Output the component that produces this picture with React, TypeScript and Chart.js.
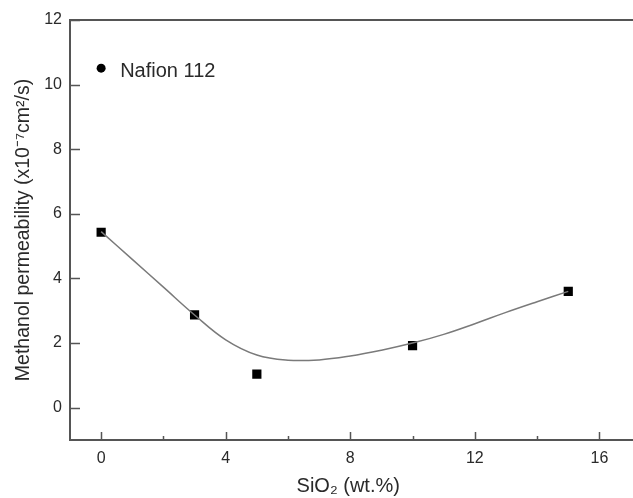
import React, { useEffect, useRef } from "react";
import { Chart, registerables } from "chart.js";

Chart.register(...registerables);

const sio2Content = [0, 3, 5, 10, 15];
const permeability = [5.43, 2.87, 1.04, 1.92, 3.6];
const nafionX = [0];
const nafionY = [10.51];
const nafionLabel = "Nafion 112";
const fitX = [0, 1, 2, 3, 4, 5, 6, 7, 8, 9, 10, 11, 12, 13, 14, 15];
const fitY = [5.45, 4.59, 3.73, 2.87, 2.1, 1.63, 1.47, 1.48, 1.6, 1.78, 2.0, 2.27, 2.6, 2.95, 3.28, 3.6];
const xTicks = [0, 2, 4, 6, 8, 10, 12, 14, 16];
const yTicks = [0, 2, 4, 6, 8, 10, 12];
const xTitle = "SiO\u2082 (wt.%)";
const yTitle = "Methanol permeability (x10\u207B\u2077cm\u00B2/s)";

const FONT = "'Liberation Sans', Arial, sans-serif";
const AXIS = "#555";
const TEXT = "#2a2a2a";

const framePlugin = {
  id: "frame",
  afterDraw(chart: any) {
    const { ctx, chartArea } = chart;
    const xs = chart.scales.x;
    const ys = chart.scales.y;
    ctx.save();
    ctx.strokeStyle = AXIS;
    ctx.lineWidth = 2;
    ctx.beginPath();
    ctx.moveTo(chartArea.left, chartArea.top);
    ctx.lineTo(chart.width, chartArea.top);
    ctx.moveTo(chartArea.left, chartArea.top - 1);
    ctx.lineTo(chartArea.left, chartArea.bottom + 1);
    ctx.moveTo(chartArea.left - 1, chartArea.bottom);
    ctx.lineTo(chart.width, chartArea.bottom);
    ctx.stroke();
    ctx.lineWidth = 1.5;
    ctx.beginPath();
    xTicks.forEach((v) => {
      const px = Math.round(xs.getPixelForValue(v)) + 0.5;
      const len = v % 4 === 0 ? 8 : 4;
      ctx.moveTo(px, chartArea.bottom);
      ctx.lineTo(px, chartArea.bottom - len);
    });
    yTicks.forEach((v) => {
      const py = Math.round(ys.getPixelForValue(v)) + 0.5;
      ctx.moveTo(chartArea.left, py);
      ctx.lineTo(chartArea.left + 10, py);
    });
    ctx.stroke();
    ctx.fillStyle = TEXT;
    ctx.font = `20px ${FONT}`;
    ctx.textBaseline = "middle";
    ctx.textAlign = "left";
    ctx.fillText(nafionLabel, xs.getPixelForValue(nafionX[0]) + 19, ys.getPixelForValue(nafionY[0]) + 3);
    ctx.restore();
  },
};

export default function App() {
  const ref = useRef<HTMLCanvasElement>(null);
  useEffect(() => {
    document.body.style.margin = "0";
    const chart = new Chart(ref.current!, {
      type: "scatter",
      data: {
        datasets: [
          {
            type: "line",
            data: fitX.map((x, i) => ({ x, y: fitY[i] })),
            borderColor: "#7a7a7a",
            borderWidth: 1.5,
            pointRadius: 0,
            tension: 0.4,
            fill: false,
          } as any,
          {
            data: sio2Content.map((x, i) => ({ x, y: permeability[i] })),
            pointStyle: "rect",
            pointRadius: 6.5,
            backgroundColor: "#000",
            borderColor: "#000",
            borderWidth: 0,
          },
          {
            data: nafionX.map((x, i) => ({ x, y: nafionY[i] })),
            pointStyle: "circle",
            pointRadius: 4.5,
            backgroundColor: "#000",
            borderColor: "#000",
            borderWidth: 0,
          },
        ],
      },
      options: {
        animation: false,
        responsive: true,
        maintainAspectRatio: false,
        layout: { padding: { top: 20, right: 0, left: 0, bottom: 0 } },
        plugins: { legend: { display: false }, tooltip: { enabled: false } },
        scales: {
          x: {
            type: "linear",
            min: -1,
            max: 16.87,
            afterBuildTicks: (s: any) => {
              s.ticks = xTicks.map((value) => ({ value }));
            },
            afterFit: (s: any) => {
              s.height = 58;
              s.paddingLeft = 0;
              s.paddingRight = 0;
            },
            grid: { display: false, drawTicks: false },
            border: { display: false },
            ticks: {
              padding: 9,
              color: TEXT,
              font: { family: FONT, size: 16 },
              maxRotation: 0,
              autoSkip: false,
              callback: (v: any) => (v % 4 === 0 ? String(v) : ""),
            },
            title: {
              display: true,
              text: xTitle,
              color: TEXT,
              font: { family: FONT, size: 20 },
              padding: { top: 4, bottom: 0 },
            },
          },
          y: {
            type: "linear",
            min: -1,
            max: 12,
            afterBuildTicks: (s: any) => {
              s.ticks = yTicks.map((value) => ({ value }));
            },
            afterFit: (s: any) => {
              s.width = 70;
              s.paddingTop = 0;
              s.paddingBottom = 0;
            },
            grid: { display: false, drawTicks: false },
            border: { display: false },
            ticks: {
              padding: 8,
              color: TEXT,
              font: { family: FONT, size: 16 },
              autoSkip: false,
            },
            title: {
              display: true,
              text: yTitle,
              color: TEXT,
              font: { family: FONT, size: 19.5 },
              padding: { top: 12, bottom: 0 },
            },
          },
        },
      },
      plugins: [framePlugin],
    });
    return () => chart.destroy();
  }, []);
  return (
    <div style={{ position: "relative", width: 633, height: 498 }}>
      <canvas ref={ref} />
    </div>
  );
}
